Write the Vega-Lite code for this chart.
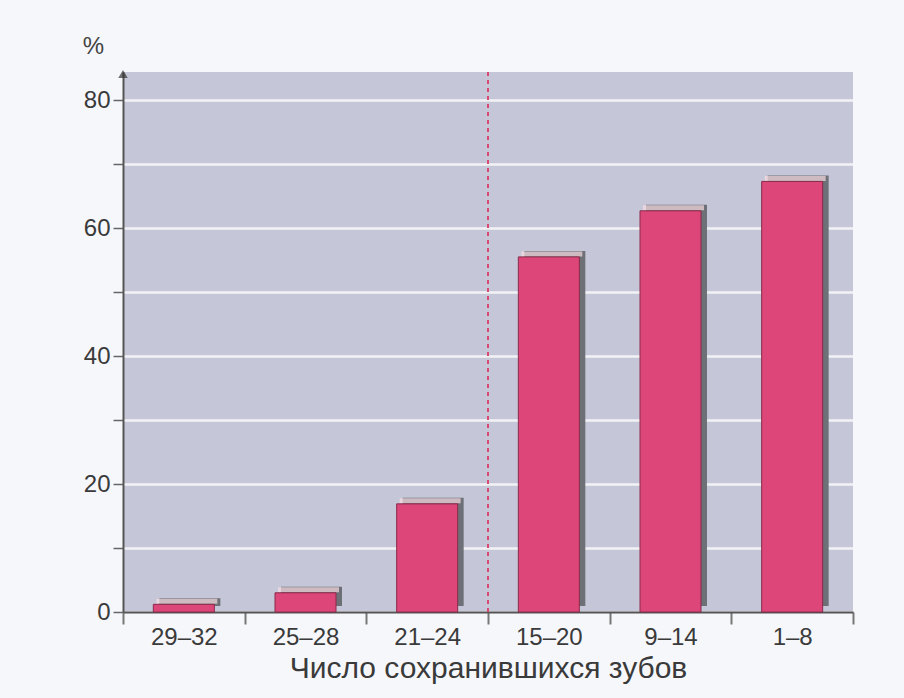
{
  "$schema": "https://vega.github.io/schema/vega-lite/v6.json",
  "width": 730,
  "height": 540,
  "autosize": {"type": "none"},
  "padding": {"left": 123, "top": 72, "right": 51, "bottom": 86},
  "background": "#f6f7fb",
  "config": {
    "view": {"fill": "#c5c6d7", "stroke": null},
    "font": "Liberation Sans"
  },
  "data": {
    "values": [
      {"group": "29–32", "pct": 1.2},
      {"group": "25–28", "pct": 3.0},
      {"group": "21–24", "pct": 16.9},
      {"group": "15–20", "pct": 55.5},
      {"group": "9–14", "pct": 62.7},
      {"group": "1–8", "pct": 67.3}
    ]
  },
  "encoding": {
    "x": {
      "field": "group",
      "type": "nominal",
      "sort": null,
      "scale": {"paddingInner": 0, "paddingOuter": 0},
      "axis": {
        "title": "Число сохранившихся зубов",
        "titleFontSize": 30,
        "titleFontWeight": "normal",
        "titleColor": "#3a3a3a",
        "titlePadding": 4,
        "labelAngle": 0,
        "labelFontSize": 24,
        "labelColor": "#3a3a3a",
        "labelPadding": 1,
        "tickBand": "extent",
        "tickSize": 12,
        "tickColor": "#777777",
        "tickWidth": 2,
        "domainColor": "#555555",
        "domainWidth": 2,
        "grid": false
      }
    }
  },
  "layer": [
    {
      "mark": {"type": "bar", "size": 61, "xOffset": 6, "yOffset": -6, "color": "#6e7078"},
      "encoding": {
        "y": {
          "field": "pct",
          "type": "quantitative",
          "scale": {"domain": [0, 84.4], "nice": false},
          "axis": {
            "title": "%",
            "titleAngle": 0,
            "titleFontSize": 24,
            "titleFontWeight": "normal",
            "titleColor": "#444444",
            "titleX": -30,
            "titleY": -14,
            "values": [0, 10, 20, 30, 40, 50, 60, 70, 80],
            "labelExpr": "datum.value % 20 == 0 ? datum.value : ''",
            "labelFontSize": 24,
            "labelColor": "#3a3a3a",
            "labelPadding": 3,
            "tickSize": 10,
            "tickColor": "#666666",
            "tickWidth": 1.5,
            "domainColor": "#555555",
            "domainWidth": 2,
            "grid": true,
            "gridColor": "#f2f2f6",
            "gridWidth": 2.5
          }
        }
      }
    },
    {
      "mark": {"type": "tick", "orient": "horizontal", "size": 61, "thickness": 5, "xOffset": 3, "yOffset": -3, "color": "#f7dbe0"},
      "encoding": {"y": {"field": "pct", "type": "quantitative"}}
    },
    {
      "mark": {"type": "bar", "size": 61, "xOffset": 0, "color": "#dc4679", "stroke": "#8a2a4a", "strokeWidth": 1},
      "encoding": {"y": {"field": "pct", "type": "quantitative"}}
    },
    {
      "data": {"values": [{"group": "15–20"}]},
      "mark": {"type": "rule", "color": "#d84a70", "strokeDash": [4, 4], "strokeWidth": 2},
      "encoding": {
        "x": {"field": "group", "type": "nominal", "bandPosition": 0}
      }
    },
    {
      "data": {"values": [{"group": "29–32", "pct": 84.4}]},
      "mark": {"type": "point", "shape": "triangle-up", "filled": true, "color": "#333333", "size": 90, "yOffset": 2},
      "encoding": {
        "x": {"field": "group", "type": "nominal", "bandPosition": 0},
        "y": {"field": "pct", "type": "quantitative"}
      }
    }
  ]
}
